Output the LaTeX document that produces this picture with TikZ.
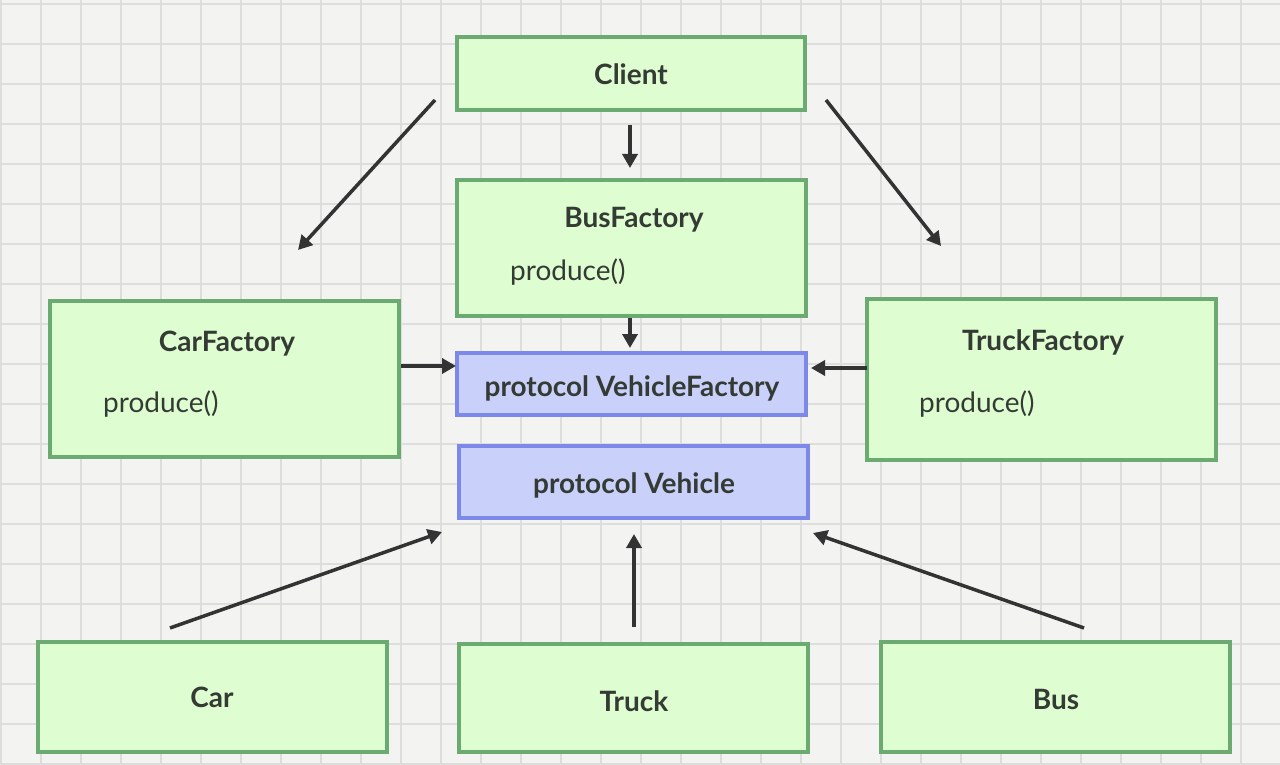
\documentclass[tikz,border=0pt]{standalone}
\usepackage{fontspec}
\setmainfont{Lato}
\usetikzlibrary{arrows.meta}
\definecolor{bgc}{HTML}{F3F3F2}
\definecolor{gridc}{HTML}{DDDDDC}
\definecolor{gfill}{HTML}{DEFDD0}
\definecolor{gline}{HTML}{6BAA70}
\definecolor{bfill}{HTML}{C9D0FA}
\definecolor{bline}{HTML}{7D89E8}
\definecolor{txt}{HTML}{343A34}
\definecolor{arr}{HTML}{333333}
\tikzset{
  gbox/.style={draw=gline, fill=gfill, line width=3.5pt, inner sep=0pt},
  bbox/.style={draw=bline, fill=bfill, line width=3.5pt, inner sep=0pt},
  ttl/.style={text=txt, font=\fontsize{28}{32}\selectfont\bfseries, inner sep=0pt},
  mth/.style={text=txt, font=\fontsize{28}{32}\selectfont, inner sep=0pt, anchor=west},
  conn/.style={draw=arr, line width=3.5pt, -{Triangle[length=14pt,width=15pt]}},
}
\begin{document}
\begin{tikzpicture}[x=1pt,y=-1pt]
\useasboundingbox (0,0) rectangle (1280,765);
\fill[bgc] (0,0) rectangle (1280,765);
\foreach \gx in {1,41,...,1281} \draw[gridc, line width=1.5pt] (\gx,0) -- (\gx,765);
\foreach \gy in {4,44,...,764} \draw[gridc, line width=1.5pt] (0,\gy) -- (1280,\gy);

% boxes
\draw[gbox] (457,37) rectangle (805,110);
\node[ttl] (client) at (631,74) {Client};

\draw[gbox] (457,180) rectangle (806,316);
\node[ttl] (busf) at (634,220) {BusFactory};
\node[mth] (busfp) at (510,272) {produce()};

\draw[gbox] (50,301) rectangle (399,457);
\node[ttl] (carf) at (227,344) {CarFactory};
\node[mth] (carfp) at (103,404) {produce()};

\draw[gbox] (867,299) rectangle (1216,460);
\node[ttl] (truckf) at (1043,342) {TruckFactory};
\node[mth] (truckfp) at (919,404) {produce()};

\draw[bbox] (457,353) rectangle (806,415);
\node[ttl] (vf) at (632,388) {protocol VehicleFactory};

\draw[bbox] (459,446) rectangle (808,518);
\node[ttl] (veh) at (634,485) {protocol Vehicle};

\draw[gbox] (38,642) rectangle (387,752);
\node[ttl] (car) at (212,697) {Car};
\draw[gbox] (459,644) rectangle (808,752);
\node[ttl] (truck) at (634,701) {Truck};
\draw[gbox] (881,642) rectangle (1230,752);
\node[ttl] (bus) at (1056,699) {Bus};

% connector endpoints
\coordinate (c1a) at (630,125); \coordinate (c1b) at (630,168);
\coordinate (c2a) at (435,100); \coordinate (c2b) at (298,250);
\coordinate (c3a) at (826,100); \coordinate (c3b) at (941,246);
\coordinate (c4a) at (630,318); \coordinate (c4b) at (630,348);
\coordinate (c5a) at (401,366); \coordinate (c5b) at (456,366);
\coordinate (c6a) at (867,368); \coordinate (c6b) at (811,368);
\coordinate (c7a) at (170,628); \coordinate (c7b) at (442,532);
\coordinate (c8a) at (634,627); \coordinate (c8b) at (634,534);
\coordinate (c9a) at (1084,628); \coordinate (c9b) at (813,533);

\draw[conn] (c1a) -- (c1b);
\draw[conn] (c2a) -- (c2b);
\draw[conn] (c3a) -- (c3b);
\draw[conn] (c4a) -- (c4b);
\draw[conn] (c5a) -- (c5b);
\draw[conn] (c6a) -- (c6b);
\draw[conn] (c7a) -- (c7b);
\draw[conn] (c8a) -- (c8b);
\draw[conn] (c9a) -- (c9b);
\end{tikzpicture}
\end{document}
